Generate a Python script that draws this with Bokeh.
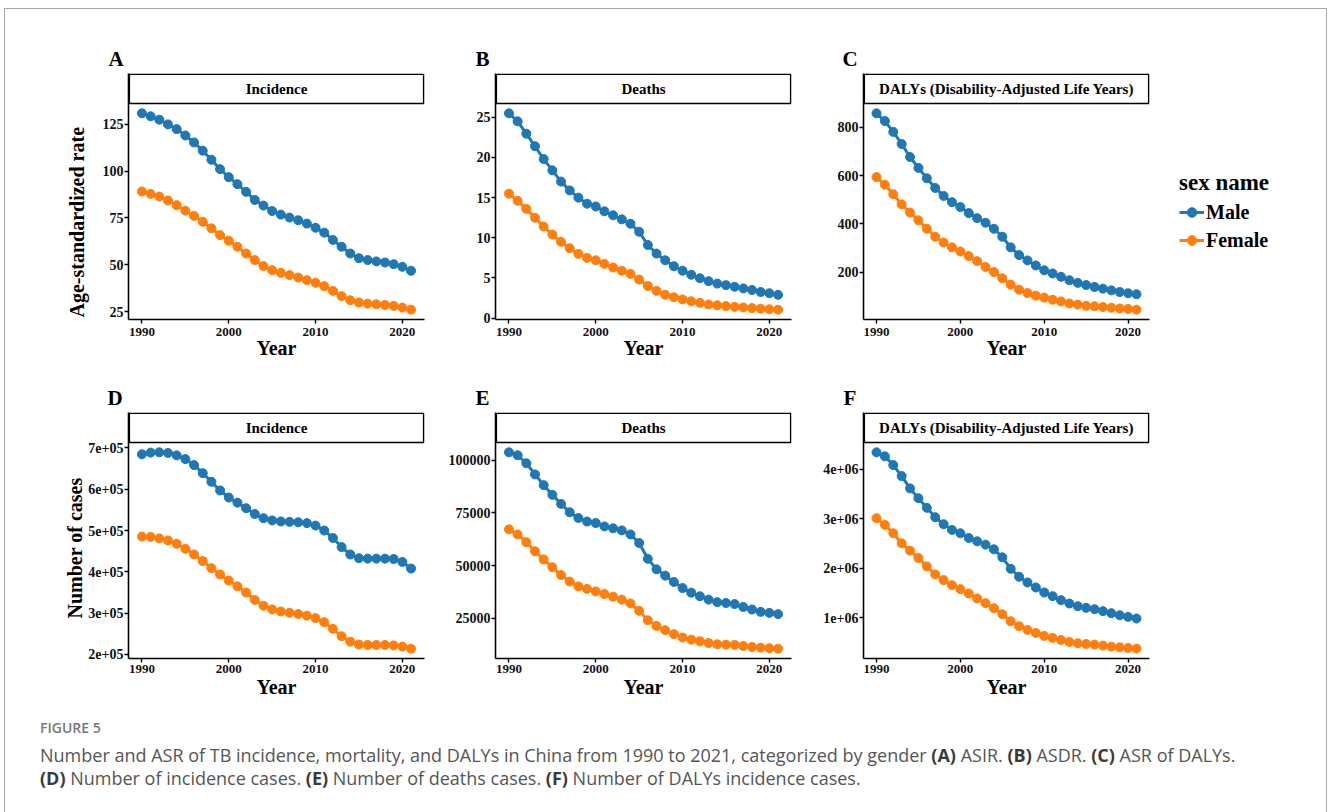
from bokeh.plotting import figure
from bokeh.models import Range1d, FixedTicker, Legend, LegendItem, Div, Title
from bokeh.layouts import column, gridplot
from bokeh.embed import file_html
from bokeh.resources import INLINE
from bokeh.core.properties import value

# ---------------- data ----------------
years = list(range(1990, 2022))

asir_male = [130.7, 129.1, 127.3, 124.8, 122.3, 118.9, 115.2, 110.8, 106.0, 101.0,
             96.7, 93.0, 88.9, 84.6, 81.6, 78.7, 76.8, 75.2, 73.8, 72.0,
             69.8, 67.2, 63.3, 59.7, 56.1, 53.6, 52.6, 51.9, 51.3, 50.4, 49.0, 46.9]
asir_female = [89.1, 87.8, 86.4, 84.3, 81.8, 78.9, 76.1, 73.0, 69.5, 65.9,
               62.9, 59.7, 56.1, 52.6, 49.4, 47.2, 45.8, 44.6, 43.3, 41.9,
               40.5, 38.7, 36.2, 33.4, 31.2, 30.0, 29.4, 29.1, 28.7, 28.2, 27.3, 26.2]

asdr_male = [25.5, 24.5, 22.96, 21.4, 19.8, 18.4, 17.0, 15.9, 15.0, 14.25,
             13.9, 13.3, 12.8, 12.3, 11.75, 10.75, 9.1, 8.04, 7.2, 6.46,
             5.9, 5.4, 4.96, 4.6, 4.3, 4.1, 3.9, 3.7, 3.5, 3.25, 3.1, 2.9]
asdr_female = [15.5, 14.6, 13.6, 12.5, 11.4, 10.4, 9.5, 8.7, 8.0, 7.5,
               7.2, 6.75, 6.3, 5.9, 5.5, 4.8, 4.0, 3.4, 2.9, 2.6,
               2.33, 2.1, 1.9, 1.7, 1.6, 1.5, 1.4, 1.33, 1.25, 1.17, 1.1, 1.05]

daly_rate_male = [858, 826, 781, 731, 677, 632, 589, 549, 516, 490,
                  470, 445, 424, 405, 380, 347, 303, 271, 249, 228,
                  208, 195, 181, 167, 156, 147, 139, 132, 125, 118, 113, 109]
daly_rate_female = [594, 562, 523, 481, 447, 415, 380, 347, 323, 303,
                    286, 267, 246, 222, 201, 175, 149, 128, 114, 103,
                    95, 86, 79, 71, 66, 61, 59, 56, 53, 50, 48, 45]

inc_num_male = [684600, 688600, 689400, 687800, 682000, 673000, 658500, 639000, 618000, 597000,
                580000, 567500, 554000, 540000, 530000, 524500, 522000, 521000, 520000, 518000,
                512000, 500000, 482000, 460000, 442000, 433000, 432000, 432000, 432000, 431000,
                424000, 408000]
inc_num_female = [485400, 484600, 481000, 476000, 468000, 456000, 442000, 426000, 409000, 393500,
                  379000, 365000, 350000, 332000, 318000, 309000, 304000, 301000, 298000, 294000,
                  288000, 278000, 262000, 244000, 231000, 224000, 223000, 223000, 223000, 222000,
                  219000, 214000]

death_num_male = [103800, 102400, 98600, 93300, 88200, 83600, 79300, 75300, 72600, 70900,
                  70200, 68600, 67700, 66700, 64800, 60700, 53200, 48200, 45200, 42200,
                  39300, 37100, 35400, 33800, 32600, 32200, 31700, 30300, 29100, 28000,
                  27500, 26900]
death_num_female = [67200, 64800, 61100, 56800, 52900, 49200, 45500, 42400, 40100, 38900,
                    37700, 36500, 35200, 33800, 32000, 28500, 24000, 21300, 19300, 17400,
                    15800, 14800, 14000, 13200, 12600, 12400, 12300, 11800, 11300, 11000,
                    10700, 10500]

daly_num_male = [4337000, 4256000, 4080000, 3858000, 3609000, 3413000, 3218000, 3029000, 2887000, 2773000,
                 2705000, 2611000, 2543000, 2476000, 2382000, 2220000, 1990000, 1829000, 1714000, 1613000,
                 1512000, 1438000, 1357000, 1290000, 1235000, 1202000, 1175000, 1135000, 1094000, 1054000,
                 1020000, 987000]
daly_num_female = [3009000, 2874000, 2705000, 2503000, 2355000, 2207000, 2038000, 1876000, 1761000, 1660000,
                   1579000, 1492000, 1391000, 1297000, 1195000, 1074000, 932000, 831000, 757000, 697000,
                   636000, 596000, 555000, 515000, 488000, 474000, 461000, 441000, 420000, 407000,
                   393000, 379000]

x_ticks = [1990, 2000, 2010, 2020]
ticks_A = [25, 50, 75, 100, 125]
ticks_B = [0, 5, 10, 15, 20, 25]
ticks_C = [200, 400, 600, 800]
ticks_D = [200000, 300000, 400000, 500000, 600000, 700000]
labels_D = ["2e+05", "3e+05", "4e+05", "5e+05", "6e+05", "7e+05"]
ticks_E = [25000, 50000, 75000, 100000]
labels_E = ["25000", "50000", "75000", "100000"]
ticks_F = [1000000, 2000000, 3000000, 4000000]
labels_F = ["1e+06", "2e+06", "3e+06", "4e+06"]

sex_names = ["Male", "Female"]
strip_titles = ["Incidence", "Deaths", "DALYs (Disability-Adjusted Life Years)"]
panel_letters = ["A", "B", "C", "D", "E", "F"]

# ---------------- style / geometry ----------------
SERIF = "Liberation Serif"
BLUE = "#1f77b4"
ORANGE = "#ff7f0e"
FRAME_W = 296
DATA_H = 216          # plotting area height
STRIP_H = 30          # facet strip height (drawn on top of the plotting area)
FRAME_H = DATA_H + STRIP_H

COL_LB = [123, 50, 33]
COL_RB = [21, 29, 11]
ROW_TB = [64, 42]
ROW_BB = [51, 47]


def panel(y_m, y_f, col, rw, letter, letter_offset, strip_text, yticks, ylabels=None,
          ytitle=None, ytitle_offset=0, ytitle_standoff=0, xlab_standoff=2, xtitle_standoff=0):
    lo = min(min(y_m), min(y_f))
    hi = max(max(y_m), max(y_f))
    pad = (hi - lo) * 0.05
    y0, y_data_top = lo - pad, hi + pad
    ypp = (y_data_top - y0) / DATA_H
    y1 = y_data_top + STRIP_H * ypp
    xpad = (years[-1] - years[0]) * 0.05
    x0, x1 = years[0] - xpad, years[-1] + xpad
    xpp = (x1 - x0) / FRAME_W

    lb, rb, tb, bb = COL_LB[col], COL_RB[col], ROW_TB[rw], ROW_BB[rw]
    p = figure(width=lb + FRAME_W + rb, height=tb + FRAME_H + bb,
               x_range=Range1d(x0, x1), y_range=Range1d(y0, y1),
               output_backend="svg", toolbar_location=None,
               min_border_left=lb, min_border_right=rb,
               min_border_top=tb, min_border_bottom=bb)
    p.outline_line_color = None
    p.grid.visible = False
    p.background_fill_color = "white"
    p.border_fill_color = "white"

    t = Title(text=letter, align="left", offset=letter_offset, standoff=5,
              text_font=SERIF, text_font_style="bold", text_font_size="21px",
              text_color="black")
    p.add_layout(t, "above")

    for ax in (p.xaxis[0], p.yaxis[0]):
        ax.axis_line_color = "black"
        ax.axis_line_width = 1.6
        ax.major_tick_line_color = "black"
        ax.major_tick_line_width = 1.4
        ax.major_tick_out = 4
        ax.major_tick_in = 0
        ax.minor_tick_line_color = None
        ax.major_label_text_font = SERIF
        ax.major_label_text_font_style = "bold"
        ax.major_label_text_color = "#111111"
        ax.axis_label_text_font = SERIF
        ax.axis_label_text_font_style = "bold"
        ax.axis_label_text_font_size = "20px"
        ax.axis_label_text_color = "black"
    p.xaxis.major_label_text_font_size = "13px"
    p.yaxis.major_label_text_font_size = "14px"
    p.xaxis.ticker = FixedTicker(ticks=x_ticks)
    p.xaxis.axis_label = "Year"
    p.xaxis.major_label_standoff = xlab_standoff
    p.xaxis.axis_label_standoff = xtitle_standoff
    p.yaxis.ticker = FixedTicker(ticks=yticks)
    p.yaxis.major_label_standoff = 1
    if ylabels:
        p.yaxis.major_label_overrides = {tk: lab for tk, lab in zip(yticks, ylabels)}
    if ytitle:
        # y title placed against the plotting area (below the strip), like ggplot
        yt = Title(text=ytitle, align="left", vertical_align="bottom",
                   offset=ytitle_offset, standoff=ytitle_standoff,
                   text_font=SERIF, text_font_style="bold", text_font_size="20px",
                   text_color="black")
        p.add_layout(yt, "left")

    # facet strip
    p.quad(left=[x0 + 0.8 * xpp], right=[x1 - 0.8 * xpp],
           bottom=[y_data_top], top=[y1 - 0.8 * ypp],
           fill_color="white", line_color="black", line_width=1.6)
    p.text(x=[(x0 + x1) / 2], y=[(y_data_top + y1) / 2], text=[strip_text],
           text_font=value(SERIF), text_font_style="bold", text_font_size="15px",
           text_align="center", text_baseline="middle", text_color="black")

    p.line(years, y_m, line_color=BLUE, line_width=3)
    p.scatter(years, y_m, size=9, fill_color=BLUE, line_color=BLUE)
    p.line(years, y_f, line_color=ORANGE, line_width=3)
    p.scatter(years, y_f, size=9, fill_color=ORANGE, line_color=ORANGE)
    return p


pA = panel(asir_male, asir_female, 0, 0, panel_letters[0], -20, strip_titles[0], ticks_A,
           ytitle="Age-standardized rate", ytitle_offset=2, ytitle_standoff=24,
           xlab_standoff=4, xtitle_standoff=-2)
pB = panel(asdr_male, asdr_female, 1, 0, panel_letters[1], -20, strip_titles[1], ticks_B,
           xlab_standoff=4, xtitle_standoff=-2)
pC = panel(daly_rate_male, daly_rate_female, 2, 0, panel_letters[2], -21, strip_titles[2], ticks_C,
           xlab_standoff=4, xtitle_standoff=-2)
pD = panel(inc_num_male, inc_num_female, 0, 1, panel_letters[3], -21, strip_titles[0], ticks_D, labels_D,
           ytitle="Number of cases", ytitle_offset=40, ytitle_standoff=0,
           xlab_standoff=2, xtitle_standoff=0)
pE = panel(death_num_male, death_num_female, 1, 1, panel_letters[4], -20, strip_titles[1], ticks_E, labels_E,
           xlab_standoff=2, xtitle_standoff=0)
pF = panel(daly_num_male, daly_num_female, 2, 1, panel_letters[5], -20, strip_titles[2], ticks_F, labels_F,
           xlab_standoff=2, xtitle_standoff=0)

# ---------------- legend (own column) ----------------
LEG_W = 166
NAN = float("nan")
pL = figure(width=LEG_W, height=ROW_TB[0] + FRAME_H + ROW_BB[0],
            x_range=Range1d(0, LEG_W), y_range=Range1d(0, FRAME_H),
            output_backend="svg", toolbar_location=None,
            x_axis_type=None, y_axis_type=None,
            min_border_left=0, min_border_right=0,
            min_border_top=ROW_TB[0], min_border_bottom=ROW_BB[0])
pL.grid.visible = False
pL.outline_line_color = None
kl_m = pL.line([NAN], [NAN], line_color=BLUE, line_width=3)
ks_m = pL.scatter([NAN], [NAN], size=9, fill_color=BLUE, line_color=BLUE)
kl_f = pL.line([NAN], [NAN], line_color=ORANGE, line_width=3)
ks_f = pL.scatter([NAN], [NAN], size=9, fill_color=ORANGE, line_color=ORANGE)
legend = Legend(items=[LegendItem(label=sex_names[0], renderers=[kl_m, ks_m]),
                       LegendItem(label=sex_names[1], renderers=[kl_f, ks_f])],
                title="sex name", location=(19, 67), orientation="vertical")
legend.title_text_font = SERIF
legend.title_text_font_style = "bold"
legend.title_text_font_size = "23px"
legend.title_text_color = "black"
legend.title_standoff = 4
legend.label_text_font = SERIF
legend.label_text_font_style = "bold"
legend.label_text_font_size = "20px"
legend.label_text_color = "black"
legend.glyph_width = 25
legend.glyph_height = 24
legend.label_height = 24
legend.label_standoff = 2
legend.spacing = 4
legend.padding = 0
legend.margin = 0
legend.border_line_color = None
legend.background_fill_alpha = 0
pL.add_layout(legend, "center")

grid = gridplot([[pA, pB, pC, pL], [pD, pE, pF, None]], toolbar_location=None)

# ---------------- caption ----------------
cap_html = (
    '<div style="padding:6px 0 0 30px; font-family:\'Open Sans\', sans-serif; color:#555555; white-space:nowrap;">'
    '<div style="font-size:14px; font-weight:600; color:#777777; line-height:23px; margin-bottom:5px;">FIGURE 5</div>'
    '<div style="font-size:18px; line-height:23px;">'
    'Number and ASR of TB incidence, mortality, and DALYs in China from 1990 to 2021, categorized by gender '
    '<b style="color:#3a3a3a">(A)</b> ASIR. <b style="color:#3a3a3a">(B)</b> ASDR. '
    '<b style="color:#3a3a3a">(C)</b> ASR of DALYs.<br>'
    '<b style="color:#3a3a3a">(D)</b> Number of incidence cases. <b style="color:#3a3a3a">(E)</b> Number of deaths cases. '
    '<b style="color:#3a3a3a">(F)</b> Number of DALYs incidence cases.'
    '</div></div>'
)
caption = Div(text=cap_html, width=1321, height=107)

inner = column(grid, caption, width=1321, height=803, sizing_mode="fixed")
inner.styles = {"outline": "1px solid #a8a8a8", "background-color": "white"}
inner.margin = (9, 0, 0, 5)

open("out.html", "w").write(file_html(inner, INLINE))
